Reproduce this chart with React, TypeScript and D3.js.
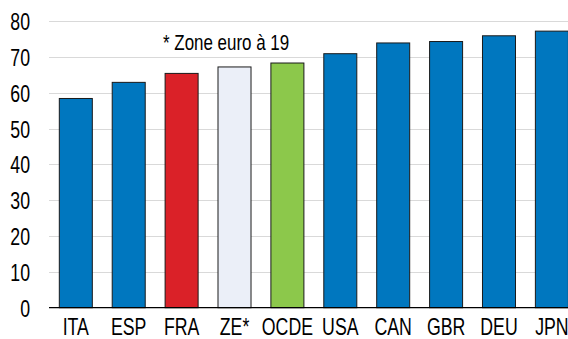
import React, { useEffect, useRef } from 'react';
import * as d3 from 'd3';

const countries = ['ITA', 'ESP', 'FRA', 'ZE*', 'OCDE', 'USA', 'CAN', 'GBR', 'DEU', 'JPN'];
const values = [58.4, 62.9, 65.4, 67.2, 68.3, 70.9, 73.9, 74.3, 75.9, 77.2];
const yTicks = [0, 10, 20, 30, 40, 50, 60, 70, 80];
const noteText = '* Zone euro à 19';

const colorFor = (c: string) => {
  if (c === 'FRA') return '#DA2128';
  if (c === 'ZE*') return '#EBEFF8';
  if (c === 'OCDE') return '#8CC84B';
  return '#0077BF';
};

// the source font is a tall narrow sans, so squeeze Liberation Sans horizontally
const squeeze = 0.77;
const fontSize = 23;

const App: React.FC = () => {
  const svgRef = useRef<SVGSVGElement>(null);

  useEffect(() => {
    if (!svgRef.current) return;
    const svg = d3.select(svgRef.current);
    svg.selectAll('*').remove();

    const width = 568;
    const height = 339;
    const left = 49;
    const right = 578.7;
    const zeroY = 307.7;
    const topY = 21.1;

    const x = d3.scaleBand<string>()
      .domain(countries)
      .range([left, right])
      .paddingInner(0.376)
      .paddingOuter(0.195);

    const y = d3.scaleLinear().domain([0, 80]).range([zeroY, topY]);

    svg.attr('width', width).attr('height', height);
    svg.append('rect').attr('width', width).attr('height', height).attr('fill', '#fff');

    // gridlines
    svg.append('g')
      .selectAll('line')
      .data(yTicks.filter(t => t > 0))
      .join('line')
      .attr('x1', left)
      .attr('x2', width)
      .attr('y1', d => Math.round(y(d)) + 0.5)
      .attr('y2', d => Math.round(y(d)) + 0.5)
      .attr('stroke', '#d9d9d9')
      .attr('stroke-width', 1);

    const font = '"Liberation Sans", Arial, sans-serif';

    // y tick labels
    svg.append('g')
      .attr('font-family', font)
      .attr('font-size', fontSize)
      .attr('fill', '#000')
      .attr('text-anchor', 'end')
      .selectAll('text')
      .data(yTicks)
      .join('text')
      .attr('transform', d => `translate(30,${y(d) + 9}) scale(${squeeze},1)`)
      .text(d => d);

    // bars
    svg.append('g')
      .selectAll('rect')
      .data(countries)
      .join('rect')
      .attr('x', d => x(d) || 0)
      .attr('y', (d, i) => y(values[i]))
      .attr('width', x.bandwidth())
      .attr('height', (d, i) => zeroY - y(values[i]))
      .attr('fill', d => colorFor(d))
      .attr('stroke', '#1a1a1a')
      .attr('stroke-width', 1);

    // zero axis
    svg.append('line')
      .attr('x1', left)
      .attr('x2', width)
      .attr('y1', zeroY)
      .attr('y2', zeroY)
      .attr('stroke', '#000')
      .attr('stroke-width', 1.2);

    // x labels
    svg.append('g')
      .attr('font-family', font)
      .attr('font-size', fontSize)
      .attr('fill', '#000')
      .attr('text-anchor', 'middle')
      .selectAll('text')
      .data(countries)
      .join('text')
      .attr('transform', d => `translate(${(x(d) || 0) + x.bandwidth() / 2},335) scale(${squeeze},1)`)
      .text(d => d);

    // note
    svg.append('text')
      .attr('transform', `translate(163,50) scale(${squeeze},1)`)
      .attr('font-family', font)
      .attr('font-size', 22)
      .attr('fill', '#000')
      .text(noteText);
  }, []);

  return <svg ref={svgRef} style={{ position: 'absolute', left: 0, top: 0 }} />;
};

export default App;
